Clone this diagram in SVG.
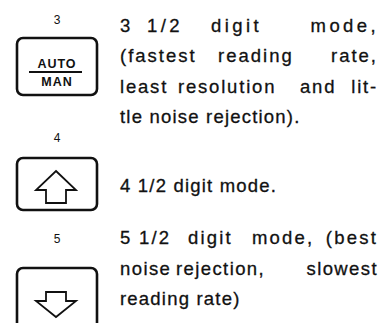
<svg xmlns="http://www.w3.org/2000/svg" width="386" height="323" viewBox="0 0 386 323">
<style>
.key{fill:none;stroke:#111;stroke-width:2.6}
.arr{fill:none;stroke:#111;stroke-width:1.8;stroke-linejoin:miter}
.num{font-family:"Liberation Sans",Arial,sans-serif;font-size:12px;fill:#111;text-anchor:middle}
.cap{font-family:"Liberation Sans",Arial,sans-serif;font-size:12.5px;font-weight:bold;fill:#111;text-anchor:middle;letter-spacing:1px}
.t{font-family:"Liberation Sans",Arial,sans-serif;font-size:18.5px;fill:#111;stroke:#111;stroke-width:0.3;letter-spacing:1.2px}
.e{text-anchor:end}
.l1{letter-spacing:3.4px}
.l2{letter-spacing:2px}
.l3{letter-spacing:1.8px}
.l5{letter-spacing:2.2px}
.l6{letter-spacing:1.4px}
</style>
<rect width="386" height="323" fill="#fff"/>
<g id="key-auto-man">
<text class="num" x="57" y="24">3</text>
<rect class="key" x="17" y="38" width="80" height="57" rx="6"/>
<text class="cap" x="57" y="68">AUTO</text>
<line x1="29" y1="72" x2="82" y2="72" stroke="#111" stroke-width="1.8"/>
<text class="cap" x="57" y="86">MAN</text>
</g>
<g id="key-up">
<text class="num" x="57" y="142">4</text>
<rect class="key" x="17" y="158" width="80" height="52" rx="6"/>
<polygon class="arr" points="56,171 76,190 66,190 66,203 46,203 46,190 36,190"/>
</g>
<g id="key-down">
<text class="num" x="57" y="243">5</text>
<rect class="key" x="17" y="268" width="80" height="70" rx="6"/>
<polygon class="arr" points="46,292 66,292 66,301 76,301 56,317 36,301 46,301"/>
</g>
<g id="connectors"></g>
<g id="desc-3">
<text class="t l1" x="120" y="32">3</text>
<text class="t l1" x="147" y="32">1/2</text>
<text class="t l1" x="211" y="32">digit</text>
<text class="t l1 e" x="379" y="32">mode,</text>
<text class="t l2" x="120" y="62">(fastest</text>
<text class="t l2" x="218" y="62">reading</text>
<text class="t l2 e" x="378" y="62">rate,</text>
<text class="t l3" x="120" y="93">least</text>
<text class="t l3" x="178" y="93">resolution</text>
<text class="t l3" x="300" y="93">and</text>
<text class="t l3 e" x="378" y="93">lit-</text>
<text class="t" x="120" y="123">tle noise rejection).</text>
</g>
<g id="desc-4">
<text class="t" x="120" y="192">4 1/2 digit mode.</text>
</g>
<g id="desc-5">
<text class="t l5" x="120" y="244">5</text>
<text class="t l5" x="139" y="244">1/2</text>
<text class="t l5" x="188" y="244">digit</text>
<text class="t l5" x="252" y="244">mode,</text>
<text class="t l5 e" x="378" y="244">(best</text>
<text class="t l6" x="120" y="275">noise</text>
<text class="t l6" x="176" y="275">rejection,</text>
<text class="t l6 e" x="378" y="275">slowest</text>
<text class="t" x="120" y="305">reading rate)</text>
</g>
</svg>
